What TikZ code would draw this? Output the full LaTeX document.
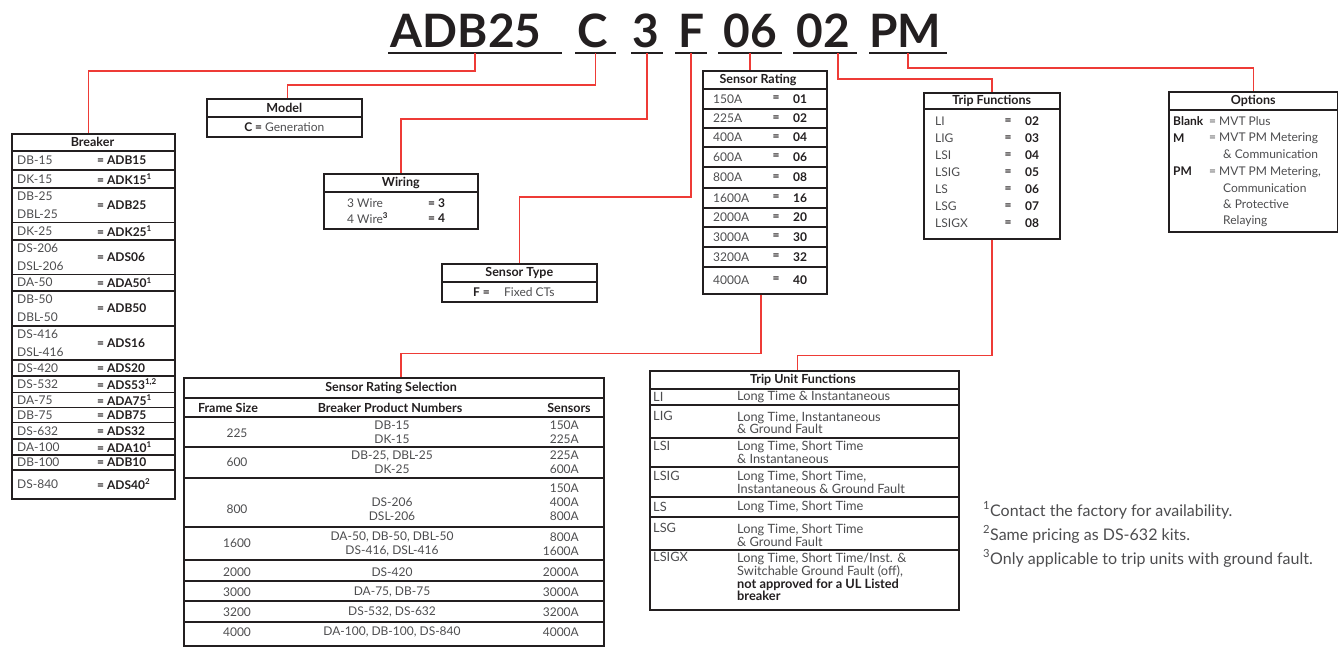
\documentclass[tikz,border=0pt]{standalone}
\usepackage{fontspec}
\setmainfont{Lato}
\usetikzlibrary{positioning,calc}
\definecolor{boxc}{HTML}{231F20}
\definecolor{txtc}{HTML}{4D4D4F}
\definecolor{redc}{HTML}{EE3B36}

\begin{document}
\begin{tikzpicture}[x=1pt,y=-1pt,
	box/.style={draw=boxc, line width=1.6pt, inner sep=0pt, anchor=north west},
	div/.style={draw=boxc, line width=1.6pt},
	wire/.style={draw=redc, line width=1.5pt},
	uline/.style={draw=boxc, line width=1.6pt},
	big/.style={font=\bfseries\fontsize{46}{46}\selectfont, text=boxc, inner sep=0pt, anchor=base},
	ttl/.style={font=\bfseries\fontsize{12.5}{12.5}\selectfont, text=boxc, inner sep=0pt},
	txt/.style={font=\fontsize{12}{13.5}\selectfont, text=txtc, inner sep=0pt},
	brktxt/.style={txt, font=\fontsize{12}{18}\selectfont, anchor=west, align=left},
	tuftxt/.style={txt, font=\fontsize{12.8}{12.7}\selectfont, anchor=west, align=left},
	code/.style={font=\bfseries\fontsize{12}{13.5}\selectfont, text=boxc, inner sep=0pt},
	note/.style={font=\fontsize{16}{16}\selectfont, text=txtc, inner sep=0pt, anchor=base west},
	]
	\fill[white] (0,0) rectangle (1338,646);
	\useasboundingbox (0,0) rectangle (1338,646);
	
	\node[big] (tADB) at (466,47) {ADB25};
	\node[big] (tC) at (593,47) {C};
	\node[big] (t3) at (646,47) {3};
	\node[big] (tF) at (692,47) {F};
	\node[big] (t06) at (750,47) {06};
	\node[big] (t02) at (823,47) {02};
	\node[big] (tPM) at (905,47) {PM};
	\foreach \n/\xa/\w in {ADB/388/174, C/575/41, 3/631/32, F/675/32, 06/718/64, 02/793/64, PM/869/78} {
		\node[inner sep=0pt, minimum width=\w pt, minimum height=0pt, anchor=west] (u\n) at (\xa,53) {};
		\draw[uline] (u\n.west) -- (u\n.east);
	}
	
	\node[box, minimum width=163, minimum height=365] (brk) at (11,133) {};
	\node[box, minimum width=155, minimum height=38] (mdl) at (206,98) {};
	\node[box, minimum width=154, minimum height=55] (wir) at (323,173) {};
	\node[box, minimum width=155, minimum height=38] (snt) at (441,263) {};
	\node[box, minimum width=124, minimum height=223] (srt) at (702,70) {};
	\node[box, minimum width=136, minimum height=146] (trf) at (923,92) {};
	\node[box, minimum width=169, minimum height=140] (opt) at (1168,91) {};
	\node[box, minimum width=420, minimum height=268] (srs) at (183,377) {};
	\node[box, minimum width=309, minimum height=239] (tuf) at (649,370) {};
	
	\draw[wire] (uADB.south) -- ++(0,18) -| ([xshift=-5pt]brk.north);
	\draw[wire] (uC.south) -- ++(0,32) -| ([xshift=3pt]mdl.north);
	\draw[wire] (u3.south) -- ++(0,66) -| (wir.north);
	\draw[wire] (uF.south) -- ++(0,144) -| (snt.north);
	\draw[wire] (u06.south) -- (u06.south |- srt.north);
	\draw[wire] ([xshift=13pt]u02.south) -- ++(0,26) -| (trf.north);
	\draw[wire] (uPM.south) -- ++(0,15) -| (opt.north);
	\draw[wire] ([xshift=-4pt]srt.south) -- ++(0,59) -| ([xshift=7pt]srs.north);
	\draw[wire] (trf.south) -- ++(0,116) -| ([xshift=-7pt]tuf.north);
	
	\foreach \y in {150.7,169.7,188,222.3,239.7,274.3,291,325.7,360,376,392.5,407.5,422.5,439,455,470}
		\draw[div] (brk.west |- 0,\y) -- (brk.east |- 0,\y);
	\node[ttl] (brk-t) at (92.5,142) {Breaker};
	\foreach \lab/\cod/\y [count=\i] in {
		DB-15/ADB15/160.5,
		DK-15/ADK15\textsuperscript{1}/179,
		{DB-25\\DBL-25}/ADB25/205,
		DK-25/ADK25\textsuperscript{1}/231,
		{DS-206\\DSL-206}/ADS06/257,
		DA-50/ADA50\textsuperscript{1}/282.5,
		{DB-50\\DBL-50}/ADB50/308.5,
		{DS-416\\DSL-416}/ADS16/343,
		DS-420/ADS20/368,
		DS-532/ADS53\textsuperscript{1,2}/384,
		DA-75/ADA75\textsuperscript{1}/400,
		DB-75/ADB75/415,
		DS-632/ADS32/431,
		DA-100/ADA10\textsuperscript{1}/447,
		DB-100/ADB10/462.5,
		DS-840/ADS40\textsuperscript{2}/484} {
		\node[brktxt] (brk-l\i) at (17,\y) {\lab};
		\node[code, anchor=west] (brk-c\i) at (97,\y) {= \cod};
	}
	
	\draw[div] (mdl.west |- 0,117) -- (mdl.east |- 0,117);
	\node[ttl] (mdl-t) at (mdl.north |- 0,107.5) {Model};
	\node[txt] (mdl-r) at (mdl.center |- 0,127) {\textbf{\color{boxc}C =} Generation};
	
	\draw[div] (wir.west |- 0,192) -- (wir.east |- 0,192);
	\node[ttl] (wir-t) at (wir.north |- 0,182.5) {Wiring};
	\node[txt, anchor=west] (wir-l1) at (347,203) {3 Wire};
	\node[txt, anchor=west] (wir-l2) at (347,218) {4 Wire\textsuperscript{\textbf{\color{boxc}3}}};
	\node[code, anchor=west] (wir-c1) at (428,203) {= 3};
	\node[code, anchor=west] (wir-c2) at (428,218) {= 4};
	
	\draw[div] (snt.west |- 0,282) -- (snt.east |- 0,282);
	\node[ttl] (snt-t) at (snt.north |- 0,272.5) {Sensor Type};
	\node[code, anchor=west] (snt-c) at (473,292) {F =};
	\node[txt, anchor=west] (snt-l) at (504,292) {Fixed CTs};
	
	\foreach \y in {89,109,128,147,167,188,208,227,247,267}
		\draw[div] (srt.west |- 0,\y) -- (srt.east |- 0,\y);
	\node[ttl] (srt-t) at (758,80) {Sensor Rating};
	\foreach \v/\c/\y [count=\i] in {150A/01/99, 225A/02/118.5, 400A/04/137.5, 600A/06/157, 800A/08/177.5, 1600A/16/198, 2000A/20/217.5, 3000A/30/237, 3200A/32/257, 4000A/40/280} {
		\node[txt, anchor=west] (srt-l\i) at (713,\y) {\v};
		\node[code] (srt-e\i) at (776,\y) {=};
		\node[code] (srt-c\i) at (800,\y) {\c};
	}
	
	\draw[div] (trf.west |- 0,109) -- (trf.east |- 0,109);
	\node[ttl] (trf-t) at (trf.north |- 0,101) {Trip Functions};
	\foreach \v/\c [count=\i] in {LI/02, LIG/03, LSI/04, LSIG/05, LS/06, LSG/07, LSIGX/08} {
		\node[txt, anchor=west] (trf-l\i) at (935,{104.5+17*\i}) {\v};
		\node[code] (trf-e\i) at (1008,{104.5+17*\i}) {=};
		\node[code] (trf-c\i) at (1032,{104.5+17*\i}) {\c};
	}
	
	\draw[div] (opt.west |- 0,110) -- (opt.east |- 0,110);
	\node[ttl] (opt-t) at (opt.north |- 0,100.5) {Options};
	\node[code, anchor=west] (opt-k1) at (1173,121) {Blank};
	\node[code, anchor=west] (opt-k2) at (1173,138) {M};
	\node[code, anchor=west] (opt-k3) at (1173,171) {PM};
	\node[txt, anchor=west] (opt-e1) at (1209,121) {= MVT Plus};
	\node[txt, anchor=west] (opt-e2) at (1209,138) {= MVT PM Metering};
	\node[txt, anchor=west] (opt-e3) at (1223,154.5) {\& Communication};
	\node[txt, anchor=west] (opt-e4) at (1209,172) {= MVT PM Metering,};
	\node[txt, anchor=west] (opt-e5) at (1223,188) {Communication};
	\node[txt, anchor=west] (opt-e6) at (1223,204.5) {\& Protective};
	\node[txt, anchor=west] (opt-e7) at (1223,221) {Relaying};
	
	\foreach \y in {398,417,447,478,527,560,581,601,622}
		\draw[div] (srs.west |- 0,\y) -- (srs.east |- 0,\y);
	\node[ttl] (srs-t) at (391,388) {Sensor Rating Selection};
	\node[ttl] (srs-h1) at (228,408) {Frame Size};
	\node[ttl] (srs-h2) at (390,408) {Breaker Product Numbers};
	\node[ttl] (srs-h3) at (569,408) {Sensors};
	\foreach \fr/\yf/\prod/\yp/\sen/\ys [count=\i] in {
		225/433/{DB-15\\DK-15}/432.5/{150A\\225A}/432.5,
		600/462/{DB-25, DBL-25\\DK-25}/462.5/{225A\\600A}/462.5,
		800/509/{DS-206\\DSL-206}/509/{150A\\400A\\800A}/502,
		1600/543/{DA-50, DB-50, DBL-50\\DS-416, DSL-416}/544/{800A\\1600A}/544,
		2000/572/DS-420/572/2000A/572,
		3000/592/{DA-75, DB-75}/592/3000A/592,
		3200/612/{DS-532, DS-632}/612/3200A/612,
		4000/632/{DA-100, DB-100, DS-840}/632/4000A/632} {
		\node[txt] (srs-f\i) at (237,\yf) {\fr};
		\node[txt, align=center, font=\fontsize{12}{14}\selectfont] (srs-p\i) at (392,\yp) {\prod};
		\node[txt, anchor=east, align=right, font=\fontsize{12}{14}\selectfont] (srs-s\i) at (579,\ys) {\sen};
	}
	
	\foreach \y in {389,405,438,467,497,517,550}
		\draw[div] (tuf.west |- 0,\y) -- (tuf.east |- 0,\y);
	\node[ttl] (tuf-t) at (803,380) {Trip Unit Functions};
	\foreach \lab/\yl/\desc/\yd [count=\i] in {
		LI/397/{Long Time \& Instantaneous}/397,
		LIG/416/{Long Time, Instantaneous\\\& Ground Fault}/423,
		LSI/446/{Long Time, Short Time\\\& Instantaneous}/452.5,
		LSIG/476/{Long Time, Short Time,\\Instantaneous \& Ground Fault}/482.5,
		LS/507/{Long Time, Short Time}/507,
		LSG/528/{Long Time, Short Time\\\& Ground Fault}/535,
		LSIGX/557/{Long Time, Short Time/Inst. \&\\Switchable Ground Fault (off),\\\textbf{\color{boxc}not approved for a UL Listed}\\\textbf{\color{boxc}breaker}}/577} {
		\node[txt, anchor=west, font=\fontsize{12.8}{12.7}\selectfont] (tuf-l\i) at (653,\yl) {\lab};
		\node[tuftxt] (tuf-d\i) at (737,\yd) {\desc};
	}
	
	\node[note] (fn1) at (983,516) {\textsuperscript{1}Contact the factory for availability.};
	\node[note] (fn2) at (983,540) {\textsuperscript{2}Same pricing as DS-632 kits.};
	\node[note] (fn3) at (983,564) {\textsuperscript{3}Only applicable to trip units with ground fault.};
\end{tikzpicture}
\end{document}
